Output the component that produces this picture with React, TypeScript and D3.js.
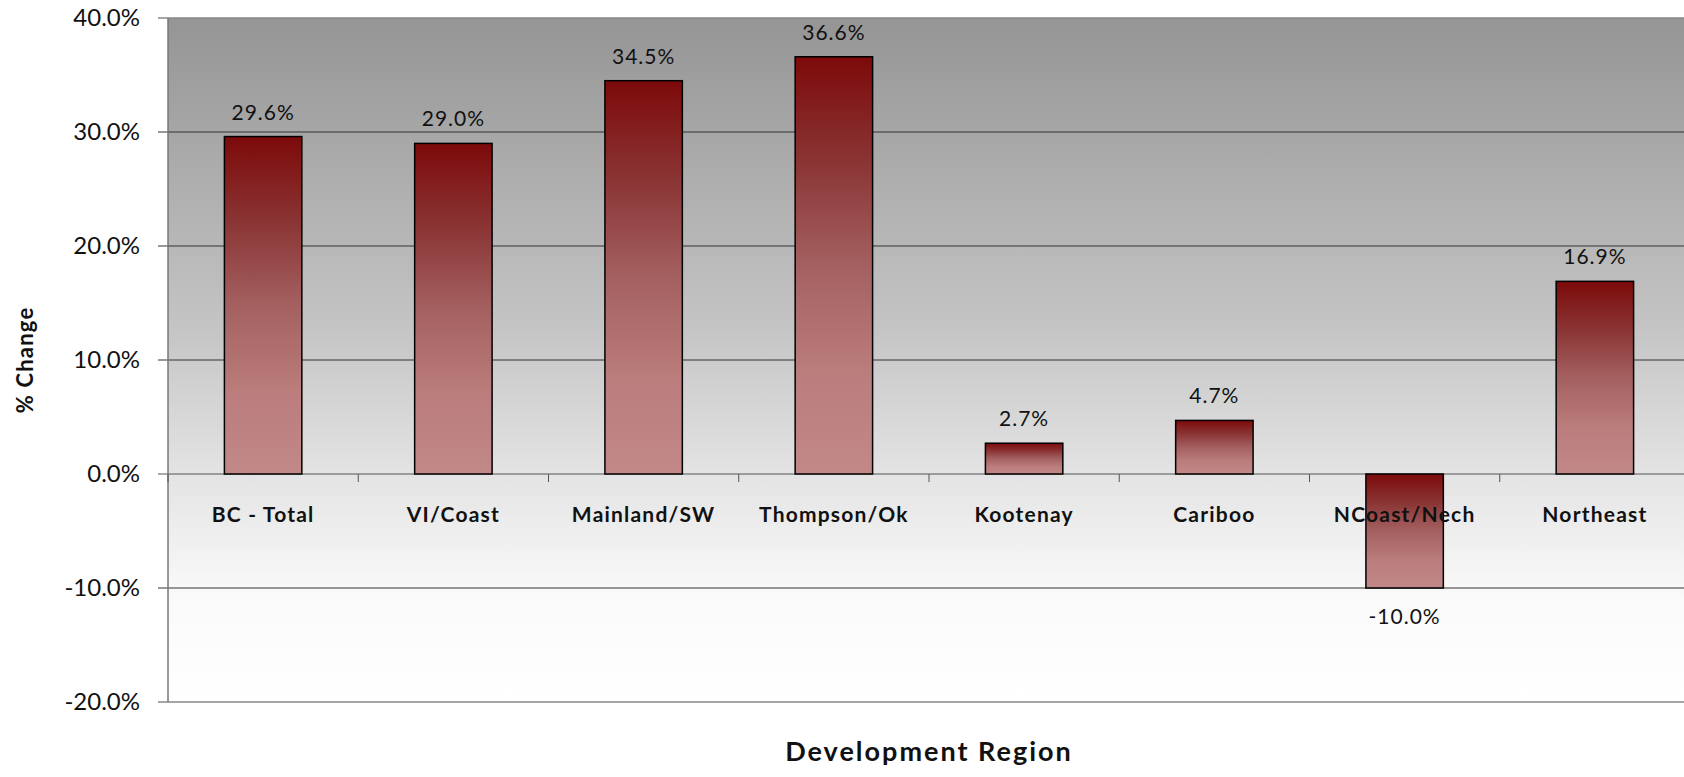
import React from "react";
import * as d3 from "d3";

const categories = ["BC - Total", "VI/Coast", "Mainland/SW", "Thompson/Ok", "Kootenay", "Cariboo", "NCoast/Nech", "Northeast"];
const values = [29.6, 29.0, 34.5, 36.6, 2.7, 4.7, -10.0, 16.9];
const yTicks = [-20, -10, 0, 10, 20, 30, 40];

const W = 1684;
const H = 777;
const left = 168;
const right = 1690;
const top = 18;
const bottom = 702;
const FONT = "Lato, 'Open Sans', sans-serif";

export default function App() {
  const x = d3.scaleBand<string>().domain(categories).range([left, right]).paddingInner(0.593).paddingOuter(0.2965);
  const y = d3.scaleLinear().domain([-20, 40]).range([bottom, top]);
  const y0 = y(0);
  const step = x.step();
  const boundaries = d3.range(categories.length + 1).map((i) => left + i * step);

  return (
    <svg width={W} height={H} style={{ position: "absolute", left: 0, top: 0 }} fontFamily={FONT}>
      <defs>
        <linearGradient id="bg" x1="0" y1="0" x2="0" y2="1">
          <stop offset="0" stopColor="#959595" />
          <stop offset="0.45" stopColor="#c4c4c4" />
          <stop offset="0.67" stopColor="#e4e4e4" />
          <stop offset="0.85" stopColor="#fafafa" />
          <stop offset="1" stopColor="#ffffff" />
        </linearGradient>
        <linearGradient id="bar" x1="0" y1="0" x2="0" y2="1">
          <stop offset="0" stopColor="#7d0a0a" />
          <stop offset="0.25" stopColor="#8a3434" />
          <stop offset="0.5" stopColor="#a46060" />
          <stop offset="0.75" stopColor="#bb7c7c" />
          <stop offset="1" stopColor="#c28888" />
        </linearGradient>
      </defs>
      <rect x={left} y={top} width={right - left} height={bottom - top} fill="url(#bg)" />
      {yTicks.map((t) => (
        <g key={t}>
          <line
            x1={left - 10}
            x2={right}
            y1={y(t)}
            y2={y(t)}
            stroke={t === 40 || t === -20 ? "#888" : t === 0 ? "#555" : "#333"}
            strokeWidth={t === 40 || t === -20 ? 1.5 : 1}
          />
          <text x={140} y={y(t) + 2} textAnchor="end" dominantBaseline="middle" fontSize={24} fill="#111">
            {t.toFixed(1) + "%"}
          </text>
        </g>
      ))}
      <line x1={left} x2={left} y1={top} y2={bottom} stroke="#777" strokeWidth={1.5} />
      {boundaries.map((b, i) => (
        <line key={i} x1={b} x2={b} y1={y0} y2={y0 + 8} stroke="#555" strokeWidth={1} />
      ))}
      {categories.map((c, i) => {
        const v = values[i];
        const bx = x(c)!;
        const by = Math.min(y(v), y0);
        const bh = Math.abs(y(v) - y0);
        return (
          <g key={c}>
            <rect x={bx} y={by} width={x.bandwidth()} height={bh} fill="url(#bar)" stroke="#000" strokeWidth={1.5} />
          </g>
        );
      })}
      {categories.map((c, i) => (
        <text key={c} x={x(c)! + x.bandwidth() / 2} y={522} textAnchor="middle" fontSize={21} fontWeight="bold" letterSpacing={1.2} fill="#111">
          {c}
        </text>
      ))}
      {categories.map((c, i) => {
        const v = values[i];
        const ly = v >= 0 ? y(v) - 17 : y(v) + 36;
        return (
          <text key={c} x={x(c)! + x.bandwidth() / 2} y={ly} textAnchor="middle" fontSize={21} letterSpacing={1} fill="#111">
            {v.toFixed(1) + "%"}
          </text>
        );
      })}
      <text transform={`translate(33,${(top + bottom) / 2}) rotate(-90)`} textAnchor="middle" fontSize={22} fontWeight="bold" letterSpacing={1.2} fill="#111">
        % Change
      </text>
      <text x={(left + right) / 2} y={761} textAnchor="middle" fontSize={27} fontWeight="bold" letterSpacing={2} fill="#111">
        Development Region
      </text>
    </svg>
  );
}
